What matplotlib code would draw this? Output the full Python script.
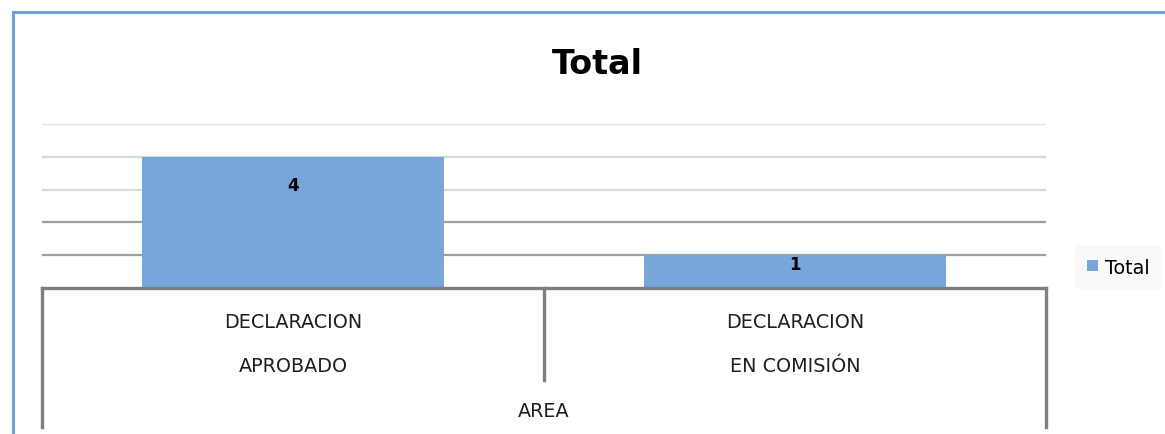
import matplotlib.pyplot as plt
import matplotlib.transforms as mtransforms
from matplotlib.lines import Line2D

# data
line1 = ['DECLARACION', 'DECLARACION']
line2 = ['APROBADO', 'EN COMISIÓN']
outer_label = 'AREA'
totals = [4, 1]
series_name = 'Total'

plt.rcParams['font.family'] = ['DejaVu Sans']

fig = plt.figure(figsize=(11.65, 4.35), dpi=100)
W, H = 1165, 435

# plot area in pixels
x0, x1, ytop, ybot = 42, 1046, 125, 289
ax = fig.add_axes([x0 / W, 1 - ybot / H, (x1 - x0) / W, (ybot - ytop) / H])

x = list(range(len(totals)))
bars = ax.bar(x, totals, width=0.6, color='#77a7da', label=series_name, zorder=2)
ax.set_xlim(-0.5, len(totals) - 0.5)
ax.set_ylim(0, 5)

# gridlines (lower ones darker, like the reference)
grid_colors = {1: '#a0a0a0', 2: '#a0a0a0', 3: '#d9d9d9', 4: '#d9d9d9', 5: '#e2e2e2'}
for v, c in grid_colors.items():
    ax.axhline(v, color=c, lw=1.6, zorder=1)

for s in ax.spines.values():
    s.set_visible(False)
ax.set_xticks([])
ax.set_yticks([])

# value labels
for b, v in zip(bars, totals):
    off = 0.86 if v > 1 else 0.27
    ax.text(b.get_x() + b.get_width() / 2, v - off, str(v),
            ha='center', va='center', fontsize=12, fontweight='bold', zorder=4)

# multi-level category axis
tr = mtransforms.blended_transform_factory(ax.transData, ax.transAxes)
px = 1.0 / (ybot - ytop)
axis_kw = dict(color='#7f7f7f', lw=2.4, transform=tr, clip_on=False, zorder=5)
ax.add_line(Line2D([-0.5, len(totals) - 0.5], [0, 0], **axis_kw))
ax.add_line(Line2D([-0.5, -0.5], [0, -(428 - ybot) * px], **axis_kw))
ax.add_line(Line2D([len(totals) - 0.5] * 2, [0, -(428 - ybot) * px], **axis_kw))
for i in range(1, len(totals)):
    ax.add_line(Line2D([i - 0.5, i - 0.5], [0, -(381 - ybot) * px], **axis_kw))

for i, (a, b) in enumerate(zip(line1, line2)):
    ax.text(i, -(322 - ybot) * px, a, transform=tr, ha='center', va='center',
            fontsize=13.8, color='#1e1e1e')
    ax.text(i, -(367 - ybot) * px, b, transform=tr, ha='center', va='center',
            fontsize=13.8, color='#1e1e1e')
ax.text((len(totals) - 1) / 2, -(412 - ybot) * px, outer_label, transform=tr,
        ha='center', va='center', fontsize=13.8, color='#1e1e1e')

# title
fig.text(597 / W, 1 - 64 / H, 'Total', ha='center', va='center',
         fontsize=24, fontweight='bold')

# legend
leg = ax.legend(loc='center left', bbox_to_anchor=(1075 / W, 1 - 268 / H),
                bbox_transform=fig.transFigure, frameon=True, fancybox=False,
                handlelength=0.55, handleheight=0.55, handletextpad=0.35,
                borderpad=0.65, borderaxespad=0, fontsize=13.8)
leg.get_frame().set_facecolor('#f8f8f8')
leg.get_frame().set_edgecolor('none')

# blue border of the chart object
fig.add_artist(Line2D([13 / W, 1], [1 - 13 / H] * 2, color='#6ea2dc', lw=2.2,
                      transform=fig.transFigure))
fig.add_artist(Line2D([13 / W] * 2, [0, 1 - 13 / H], color='#6ea2dc', lw=2.2,
                      transform=fig.transFigure))

fig.savefig('out.png', dpi=100)
